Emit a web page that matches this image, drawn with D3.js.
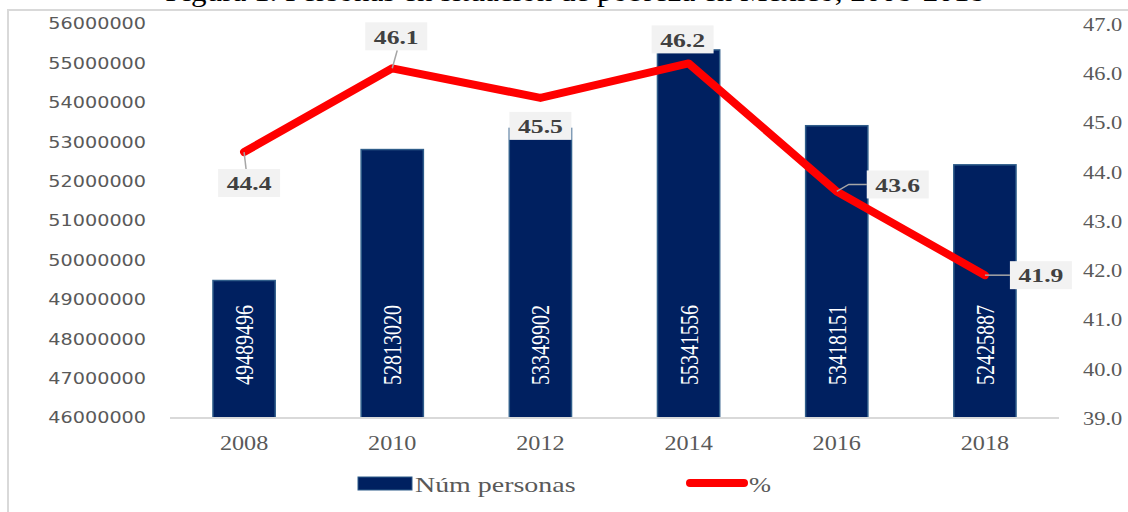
<!DOCTYPE html>
<html>
<head>
<meta charset="utf-8">
<script src="https://cdn.jsdelivr.net/npm/d3@7"></script>
<style>
  body { margin: 0; background: #fff; }
  svg { display: block; }
</style>
</head>
<body>
<div id="chart"></div>
<script>
// data
const years = ["2008", "2010", "2012", "2014", "2016", "2018"];
const personas = [49489496, 52813020, 53349902, 55341556, 53418151, 52425887];
const pct = [44.4, 46.1, 45.5, 46.2, 43.6, 41.9];
const leftTicks = [46000000, 47000000, 48000000, 49000000, 50000000, 51000000, 52000000, 53000000, 54000000, 55000000, 56000000];
const rightTicks = [39, 40, 41, 42, 43, 44, 45, 46, 47];
const labelSide = ["below", "above", "below", "above", "right", "right"];

const width = 1128, height = 512;
const navy = "#002060";
const serif = "'Liberation Serif', 'Times New Roman', serif";

const svg = d3.select("#chart").append("svg")
    .attr("width", width)
    .attr("height", height);

// helper: stretch text horizontally (source picture is a bit wide)
let putText = (g, x, y, k) => g.append("text")
    .attr("transform", `translate(${x},${y}) scale(${k},1)`);

// frame
svg.append("rect")
    .attr("x", 8).attr("y", 10)
    .attr("width", width + 10).attr("height", height + 10)
    .attr("fill", "none")
    .attr("stroke", "#d9d9d9")
    .attr("stroke-width", 2);

// title (cut off at the top of the picture, as in the source)
putText(svg, 575, 1, 1.15)
    .attr("text-anchor", "middle")
    .style("font-family", serif)
    .style("font-size", "27px")
    .attr("fill", "#000")
    .text("Figura 1. Personas en situación de pobreza en México, 2008-2018");

const x = d3.scaleBand()
    .domain(years)
    .range([170, 1059])
    .paddingInner(0.58)
    .paddingOuter(0.29);

const yL = d3.scaleLinear().domain([46000000, 56000000]).range([418, 24]);
const yR = d3.scaleLinear().domain([39, 47]).range([418, 24]);

// left axis labels
const gl = svg.append("g");
leftTicks.forEach(t => {
    putText(gl, 146, yL(t), 1.2)
        .attr("text-anchor", "end")
        .attr("dominant-baseline", "central")
        .style("font-family", "'DejaVu Sans', Verdana, sans-serif")
        .style("font-size", "16px")
        .attr("fill", "#595959")
        .text(t);
});

// right axis labels
const gr = svg.append("g");
rightTicks.forEach(t => {
    putText(gr, 1083, yR(t), 1.18)
        .attr("text-anchor", "start")
        .attr("dominant-baseline", "central")
        .style("font-family", serif)
        .style("font-size", "19px")
        .attr("fill", "#595959")
        .text(d3.format(".1f")(t));
});

// bars
const data = years.map((y, i) => ({ year: y, n: personas[i], p: pct[i], side: labelSide[i] }));

svg.append("g").selectAll("rect")
    .data(data)
    .enter()
    .append("rect")
    .attr("x", d => x(d.year))
    .attr("y", d => yL(d.n))
    .attr("width", x.bandwidth())
    .attr("height", d => yL.range()[0] - yL(d.n))
    .attr("fill", navy)
    .attr("stroke", "#2f5d8a")
    .attr("stroke-width", 1.5);

// bar value labels (rotated)
const gb = svg.append("g");
data.forEach(d => {
    gb.append("text")
        .attr("transform", `translate(${x(d.year) + x.bandwidth() / 2},345) scale(1.3,1) rotate(-90)`)
        .attr("text-anchor", "middle")
        .attr("dominant-baseline", "central")
        .style("font-family", serif)
        .style("font-size", "20px")
        .attr("fill", "#fff")
        .text(d.n);
});

// x axis line
svg.append("line")
    .attr("x1", x.range()[0]).attr("x2", x.range()[1])
    .attr("y1", yL.range()[0]).attr("y2", yL.range()[0])
    .attr("stroke", "#d9d9d9")
    .attr("stroke-width", 2);

// x axis labels
const gx = svg.append("g");
years.forEach(y => {
    putText(gx, x(y) + x.bandwidth() / 2, 450, 1.1)
        .attr("text-anchor", "middle")
        .style("font-family", serif)
        .style("font-size", "22px")
        .attr("fill", "#595959")
        .text(y);
});

// percent line
const line = d3.line()
    .x(d => x(d.year) + x.bandwidth() / 2)
    .y(d => yR(d.p));

svg.append("path")
    .datum(data)
    .attr("d", line)
    .attr("fill", "none")
    .attr("stroke", "#ff0000")
    .attr("stroke-width", 8)
    .attr("stroke-linejoin", "round")
    .attr("stroke-linecap", "round");

// percent labels with leader lines
const boxW = 62, boxH = 28;
const gp = svg.append("g");
data.forEach(d => {
    let px = x(d.year) + x.bandwidth() / 2;
    let py = yR(d.p);
    let cx = px, cy = py, leader = null;
    if (d.side == "below") {
        cx = px + (d.p < 45 ? 5 : 0);
        cy = py + (d.p < 45 ? 31 : 28);
        leader = d.p < 45 ? [[px, py], [cx - 3, cy - boxH / 2]] : null;
    } else if (d.side == "above") {
        cx = px + (d.p < 46.15 ? 4 : -6);
        cy = py - (d.p < 46.15 ? 32 : 24);
        leader = d.p < 46.15 ? [[px, py], [cx + 1, cy + boxH / 2]] : null;
    } else {
        let dy = d.p > 43 ? -7 : 0;
        cx = px + (d.p > 43 ? 61 : 56);
        cy = py + dy;
        leader = d.p > 43
            ? [[px, py], [px + 12, cy], [cx - boxW / 2, cy]]
            : [[px, py], [cx - boxW / 2, cy]];
    }
    if (leader) {
        gp.append("path")
            .attr("d", d3.line()(leader))
            .attr("fill", "none")
            .attr("stroke", "#a6a6a6")
            .attr("stroke-width", 1.5);
    }
    gp.append("rect")
        .attr("x", cx - boxW / 2)
        .attr("y", cy - boxH / 2)
        .attr("width", boxW)
        .attr("height", boxH)
        .attr("fill", "#f2f2f2");
    putText(gp, cx, cy + 1, 1.35)
        .attr("text-anchor", "middle")
        .attr("dominant-baseline", "central")
        .style("font-family", serif)
        .style("font-size", "19px")
        .style("font-weight", "bold")
        .attr("fill", "#404040")
        .text(d3.format(".1f")(d.p));
});

// legend
const lg = svg.append("g");
lg.append("rect")
    .attr("x", 358).attr("y", 477)
    .attr("width", 54).attr("height", 13)
    .attr("fill", navy)
    .attr("stroke", "#2f5d8a");
putText(lg, 415, 492, 1.27)
    .style("font-family", serif)
    .style("font-size", "22px")
    .attr("fill", "#595959")
    .text("Núm personas");
lg.append("line")
    .attr("x1", 690).attr("x2", 744)
    .attr("y1", 483).attr("y2", 483)
    .attr("stroke", "#ff0000")
    .attr("stroke-width", 8)
    .attr("stroke-linecap", "round");
putText(lg, 749, 492, 1.2)
    .style("font-family", serif)
    .style("font-size", "22px")
    .attr("fill", "#595959")
    .text("%");
</script>
</body>
</html>
